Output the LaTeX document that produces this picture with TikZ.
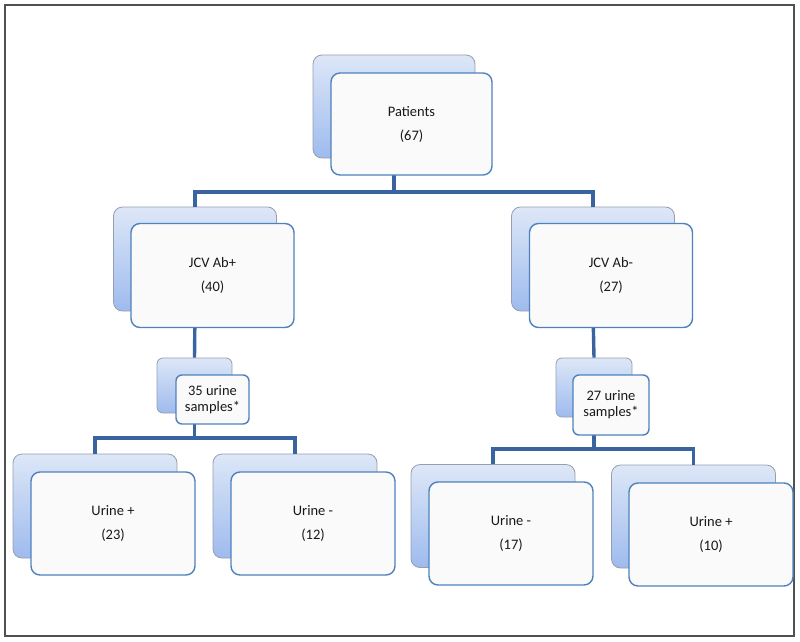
\documentclass[tikz,border=0pt]{standalone}
\usepackage{fontspec}
\setmainfont{Carlito}
\definecolor{backtop}{RGB}{221,231,247}
\definecolor{backbot}{RGB}{158,187,238}
\definecolor{backline}{RGB}{150,158,175}
\definecolor{frontline}{RGB}{79,129,189}
\definecolor{fronttop}{RGB}{250,250,251}
\definecolor{frontbot}{RGB}{244,249,249}
\definecolor{connc}{RGB}{58,100,160}
\definecolor{framec}{RGB}{80,80,80}
\begin{document}
\begin{tikzpicture}[x=1pt,y=-1pt,
  backbox/.style={rectangle, rounded corners=9pt, draw=backline, line width=0.8pt,
    top color=backtop, bottom color=backbot, inner sep=0pt},
  frontbox/.style={rectangle, rounded corners=9pt, draw=frontline, line width=1.4pt,
    fill=fronttop,
    inner sep=0pt, align=center, text=black!90,
    font=\fontsize{14.5}{24}\selectfont},
  smallback/.style={backbox, rounded corners=6pt},
  smallfront/.style={frontbox, rounded corners=6pt, font=\fontsize{14.5}{16}\selectfont},
  conn/.style={draw=connc, line width=3.4pt}]
\useasboundingbox (0,0) rectangle (800,642);
\draw[framec, line width=1.6pt] (5,5) rectangle (794,636);

% back boxes (nodes)
\node[backbox, minimum width=162pt, minimum height=103pt] (pb) at (394,106.5) {};
\node[backbox, minimum width=163pt, minimum height=104pt] (ab) at (195,259) {};
\node[backbox, minimum width=163pt, minimum height=104pt] (bb) at (593,259) {};
\node[smallback, minimum width=75pt, minimum height=55pt] (sl) at (194.5,385.5) {};
\node[smallback, minimum width=76pt, minimum height=59pt] (sr) at (594,387.5) {};
\node[backbox, minimum width=164pt, minimum height=104pt] (u1b) at (95,506) {};
\node[backbox, minimum width=164pt, minimum height=104pt] (u2b) at (295,506) {};
\node[backbox, minimum width=164pt, minimum height=103pt] (u3b) at (493,516) {};
\node[backbox, minimum width=164pt, minimum height=103pt] (u4b) at (693.5,516.5) {};

% connectors
\coordinate (h1) at (394,192);
\coordinate (h2) at (194.5,438);
\coordinate (h3) at (594,449);
\draw[conn] (pb.south) -- (h1);
\draw[conn] (ab.north) |- (h1) -| (bb.north);
\draw[conn] (ab.south) -- (sl.north);
\draw[conn] (bb.south) -- (sr.north);
\draw[conn] (sl.south) -- (h2);
\draw[conn] (u1b.north) |- (h2) -| (u2b.north);
\draw[conn] (sr.south) -- (h3);
\draw[conn] (u3b.north) |- (h3) -| (u4b.north);

% front boxes
\node[frontbox, minimum width=161pt, minimum height=102pt] (pf) at (411.5,124) {Patients\\(67)};
\node[frontbox, minimum width=163pt, minimum height=104pt] (af) at (212.5,275.5) {JCV Ab+\\(40)};
\node[frontbox, minimum width=163pt, minimum height=104pt] (bf) at (611,275.5) {JCV Ab-\\(27)};
\node[smallfront, minimum width=73pt, minimum height=49pt] (slf) at (212.5,399.5) {35 urine\\samples*};
\node[smallfront, minimum width=76pt, minimum height=60pt] (srf) at (611,405) {27 urine\\samples*};
\node[frontbox, minimum width=164pt, minimum height=103pt] (u1f) at (113,523.5) {Urine +\\(23)};
\node[frontbox, minimum width=164pt, minimum height=103pt] (u2f) at (313,523.5) {Urine -\\(12)};
\node[frontbox, minimum width=164pt, minimum height=103pt] (u3f) at (511,533.5) {Urine -\\(17)};
\node[frontbox, minimum width=164pt, minimum height=103pt] (u4f) at (711,534.5) {Urine +\\(10)};
\end{tikzpicture}
\end{document}
